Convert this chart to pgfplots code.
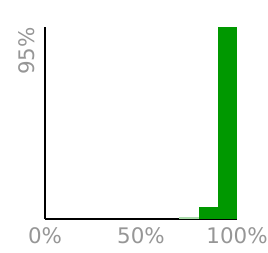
\documentclass[border=0pt]{standalone}
\usepackage{pgfplots}
\pgfplotsset{compat=1.18}
\usepackage{fontspec}
\setmainfont{DejaVu Sans}
\definecolor{barg}{RGB}{0,152,0}
\definecolor{lightg}{RGB}{170,220,170}
\definecolor{lab}{RGB}{150,150,150}
\begin{document}
\begin{tikzpicture}
\useasboundingbox (-45bp,-34bp) rectangle (223bp,219bp);
\begin{axis}[
  at={(0,0)}, anchor=origin,
  scale only axis, width=192bp, height=192bp,
  xmin=0, xmax=100, ymin=0, ymax=95,
  axis lines=left, axis line style={-, black, line width=1.4pt},
  major tick length=0pt,
  xtick={0,50,100}, xticklabels={0\%,50\%,100\%},
  ytick={95}, yticklabels={95\%},
  tick label style={font=\fontsize{21.5}{24}\selectfont, text=lab},
  /pgf/number format/assume math mode=true,
  yticklabel style={rotate=90, anchor=south east, inner sep=0pt, xshift=0bp, yshift=10bp},
  xticklabel style={yshift=-5bp},
  clip=false,
]
\addplot[ybar interval, fill=lightg, draw=none] coordinates {(70,1.0) (80,1.0)};
\addplot[ybar interval, fill=barg, draw=none] coordinates {(80,5.8) (90,5.8)};
\addplot[ybar interval, fill=barg, draw=none] coordinates {(90,95) (100,95)};
\end{axis}
\end{tikzpicture}
\end{document}
